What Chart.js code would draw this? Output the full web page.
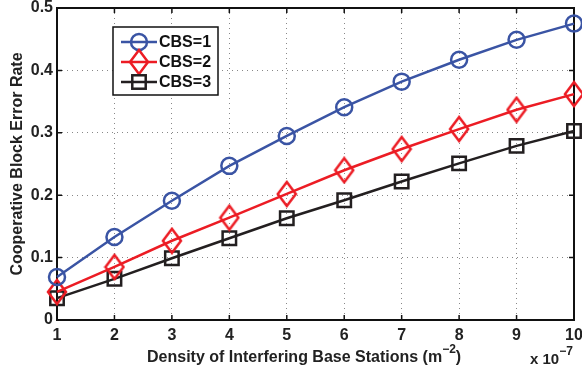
<!DOCTYPE html>
<html>
<head>
<meta charset="utf-8">
<script src="https://cdn.jsdelivr.net/npm/chart.js@4.4.0/dist/chart.umd.min.js"></script>
<style>
  html, body { margin: 0; padding: 0; background: #fff; }
  canvas { display: block; }
</style>
</head>
<body>
<canvas id="ber_chart" width="582" height="374"></canvas>
<script>
// density of interfering BSs (x 10^-7 per m^2)
var densities = [1, 2, 3, 4, 5, 6, 7, 8, 9, 10];
var cbs1 = [0.069, 0.133, 0.191, 0.247, 0.295, 0.341, 0.382, 0.417, 0.449, 0.475];
var cbs2 = [0.045, 0.085, 0.127, 0.164, 0.202, 0.240, 0.274, 0.306, 0.337, 0.362];
var cbs3 = [0.035, 0.066, 0.099, 0.131, 0.163, 0.192, 0.222, 0.251, 0.279, 0.303];
var seriesNames = ['CBS=1', 'CBS=2', 'CBS=3'];

var FONT = 'Liberation Sans, Arial, Helvetica, sans-serif';
var blue = '#3a54a4', red = '#ec1c24', black = '#231f20';

// matlab-ish diamond, a bit taller than wide
function makeDiamond(color) {
    var c = document.createElement('canvas');
    c.width = 22; c.height = 28;
    var g = c.getContext('2d');
    g.strokeStyle = color;
    g.lineWidth = 2.5;
    g.beginPath();
    g.moveTo(11, 2); g.lineTo(20, 14); g.lineTo(11, 26); g.lineTo(2, 14);
    g.closePath();
    g.stroke();
    return c;
}
var diamond = makeDiamond(red);

function toXY(vals) {
    return vals.map(function (v, i) { return { x: densities[i], y: v }; });
}

var matlabFrame = {
    id: 'matlabFrame',
    beforeDatasetsDraw: function (chart) {
        // axes box + inward ticks, under the lines
        var ctx = chart.ctx, a = chart.chartArea;
        var xs = chart.scales.x, ys = chart.scales.y;
        ctx.save();
        ctx.strokeStyle = '#111';
        ctx.lineWidth = 1.5;
        ctx.beginPath();
        xs.ticks.forEach(function (t) {
            var px = xs.getPixelForValue(t.value);
            ctx.moveTo(px, a.bottom); ctx.lineTo(px, a.bottom - 5);
            ctx.moveTo(px, a.top); ctx.lineTo(px, a.top + 5);
        });
        ys.ticks.forEach(function (t) {
            var py = ys.getPixelForValue(t.value);
            ctx.moveTo(a.left, py); ctx.lineTo(a.left + 5, py);
            ctx.moveTo(a.right, py); ctx.lineTo(a.right - 5, py);
        });
        ctx.stroke();
        ctx.lineWidth = 2;
        ctx.strokeRect(a.left, a.top, a.right - a.left, a.bottom - a.top);
        ctx.restore();
    },
    afterDraw: function (chart) {
        var ctx = chart.ctx;
        ctx.save();
        // legend box
        var lx = 113, ly = 27, lw = 105, lh = 68;
        ctx.fillStyle = '#fff';
        ctx.fillRect(lx, ly, lw, lh);
        ctx.strokeStyle = '#111';
        ctx.lineWidth = 1.5;
        ctx.strokeRect(lx, ly, lw, lh);
        chart.data.datasets.forEach(function (ds, i) {
            var y = 42 + i * 20;
            ctx.strokeStyle = ds.borderColor;
            ctx.lineWidth = 2.5;
            ctx.beginPath();
            ctx.moveTo(121, y); ctx.lineTo(157, y);
            ctx.stroke();
            ctx.beginPath();
            if (ds.pointStyle === 'circle') {
                ctx.arc(139, y, ds.pointRadius, 0, Math.PI * 2);
                ctx.stroke();
            } else if (ds.pointStyle === 'rect') {
                var s = ds.pointRadius * Math.SQRT1_2;
                ctx.strokeRect(139 - s, y - s, 2 * s, 2 * s);
            } else {
                ctx.drawImage(ds.pointStyle, 139 - 11, y - 14);
            }
            ctx.fillStyle = '#111';
            ctx.font = 'bold 16px ' + FONT;
            ctx.textAlign = 'left';
            ctx.textBaseline = 'middle';
            ctx.fillText(ds.label, 159, y + 1);
        });

        // axis titles
        ctx.fillStyle = '#222';
        ctx.font = 'bold 16px ' + FONT;
        ctx.textBaseline = 'alphabetic';
        ctx.textAlign = 'left';
        var main = 'Density of Interfering Base Stations (m';
        var x0 = 147, yb = 362;
        ctx.fillText(main, x0, yb);
        var w = ctx.measureText(main).width;
        ctx.font = 'bold 12px ' + FONT;
        ctx.fillText('\u22122', x0 + w, yb - 9);
        var w2 = ctx.measureText('\u22122').width;
        ctx.font = 'bold 16px ' + FONT;
        ctx.fillText(')', x0 + w + w2, yb);

        ctx.font = 'bold 15px ' + FONT;
        ctx.fillText('x 10', 530, 364);
        var w3 = ctx.measureText('x 10').width;
        ctx.font = 'bold 12px ' + FONT;
        ctx.fillText('\u22127', 530 + w3, 355);

        ctx.save();
        ctx.translate(22, 164);
        ctx.rotate(-Math.PI / 2);
        ctx.font = 'bold 16px ' + FONT;
        ctx.textAlign = 'center';
        ctx.fillText('Cooperative Block Error Rate', 0, 0);
        ctx.restore();
        ctx.restore();
    }
};

function noPad(s) {
    s.paddingTop = 0; s.paddingBottom = 0;
    s.paddingLeft = 0; s.paddingRight = 0;
}

var config = {
    type: 'line',
    data: {
        datasets: [{
            label: seriesNames[0],
            data: toXY(cbs1),
            borderColor: blue,
            borderWidth: 2.5,
            pointStyle: 'circle',
            pointRadius: 8,
            pointBorderWidth: 2.5,
            pointBackgroundColor: 'rgba(0,0,0,0)',
            pointBorderColor: blue,
            clip: false
        }, {
            label: seriesNames[1],
            data: toXY(cbs2),
            borderColor: red,
            borderWidth: 2.5,
            pointStyle: diamond,
            pointRadius: 10,
            pointBackgroundColor: 'rgba(0,0,0,0)',
            pointBorderColor: red,
            clip: false
        }, {
            label: seriesNames[2],
            data: toXY(cbs3),
            borderColor: black,
            borderWidth: 2.5,
            pointStyle: 'rect',
            pointRadius: 9.5,
            pointBorderWidth: 2.5,
            pointBackgroundColor: 'rgba(0,0,0,0)',
            pointBorderColor: black,
            clip: false
        }]
    },
    options: {
        responsive: false,
        animation: false,
        devicePixelRatio: 1,
        layout: { autoPadding: false, padding: { top: 8, right: 8, left: 0, bottom: 0 } },
        plugins: {
            legend: { display: false },
            title: { display: false },
            tooltip: { enabled: false }
        },
        elements: { line: { tension: 0 } },
        scales: {
            x: {
                type: 'linear',
                min: 1,
                max: 10,
                ticks: {
                    stepSize: 1,
                    color: '#222',
                    padding: 6,
                    maxRotation: 0,
                    font: { family: FONT, size: 16, weight: 'bold' }
                },
                grid: { color: '#888', lineWidth: 1, drawTicks: false },
                border: { display: false, dash: [1, 4] },
                afterFit: function (s) { s.height = 54; noPad(s); }
            },
            y: {
                min: 0,
                max: 0.5,
                ticks: {
                    stepSize: 0.1,
                    color: '#222',
                    padding: 4,
                    font: { family: FONT, size: 16, weight: 'bold' }
                },
                grid: { color: '#888', lineWidth: 1, drawTicks: false },
                border: { display: false, dash: [1, 4] },
                afterFit: function (s) { s.width = 57; noPad(s); }
            }
        }
    },
    plugins: [matlabFrame]
};

window.onload = function () {
    var ctx = document.getElementById('ber_chart').getContext('2d');
    window.berChart = new Chart(ctx, config);
};
</script>
</body>
</html>
